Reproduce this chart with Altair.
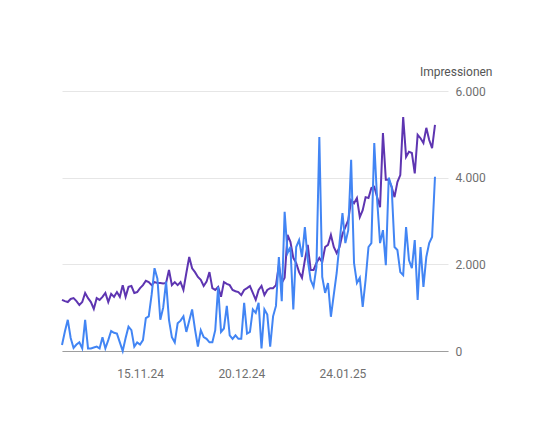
import altair as alt
import pandas as pd

start_date = "2024-10-19"

impressions = [
    1180, 1150, 1130, 1200, 1220, 1150, 1060, 1130, 1340, 1220,
    1130, 970, 1220, 1180, 1250, 1340, 1130, 1320, 1250, 1360,
    1250, 1520, 1250, 1480, 1500, 1340, 1360, 1450, 1520, 1620,
    1590, 1520, 1590, 1570, 1570, 1560, 1570, 1870, 1520, 1590,
    1520, 1590, 1410, 1800, 2170, 1910, 1820, 1710, 1640, 1500,
    1600, 1820, 1450, 1410, 1480, 1250, 1590, 1550, 1520, 1410,
    1380, 1360, 1290, 1410, 1450, 1500, 1340, 1180, 1410, 1500,
    1290, 1410, 1450, 1450, 1520, 1980, 1570, 1690, 2680, 2520,
    2150, 2030, 1820, 1690, 2100, 2450, 1870, 1870, 2030, 2150,
    2050, 2400, 2450, 2680, 2400, 2260, 2400, 2700, 2860, 3020,
    3480, 3410, 3530, 3090, 3250, 3550, 3530, 3760, 3790, 3550,
    3320, 5030, 3950, 3950, 3790, 3550, 3900, 4060, 5400, 4480,
    4600, 4570, 4100, 4990, 4910, 4800, 5150, 4870, 4680, 5220,
]

clicks = [
    140, 450, 720, 300, 70, 150, 200, 60, 720, 60,
    60, 80, 100, 60, 320, 60, 250, 460, 420, 400,
    200, 0, 300, 560, 480, 100, 200, 150, 250, 760,
    800, 1300, 1910, 1670, 720, 1000, 1600, 720, 320, 200,
    640, 700, 800, 440, 700, 960, 500, 100, 480, 320,
    280, 200, 200, 480, 1480, 440, 520, 1040, 360, 280,
    360, 280, 280, 1110, 400, 440, 960, 880, 1110, 60,
    960, 840, 100, 800, 1040, 2170, 1150, 3210, 2260, 2400,
    960, 2400, 2560, 2170, 2860, 2100, 1640, 1480, 1940, 4940,
    1710, 1340, 1570, 790, 1300, 1800, 2500, 3180, 2490, 2790,
    4410, 2030, 1570, 1690, 1020, 1640, 2400, 2490, 4800, 3480,
    2490, 2790, 1980, 4000, 3790, 2400, 2330, 1820, 1750, 2860,
    2100, 1910, 2560, 1180, 2400, 1480, 2170, 2490, 2630, 4020,
]

x_tick_dates = [(2024, 11, 15), (2024, 12, 20), (2025, 1, 24)]
y_ticks = [0, 2000, 4000, 6000]

dates = pd.date_range(start_date, periods=len(impressions), freq="D").strftime("%Y-%m-%dT00:00:00").tolist()
df = pd.DataFrame({"date": dates, "Impressionen": impressions, "Klicks": clicks})

FONT = "Roboto"
LABEL = "#6f6f6f"

x_enc = alt.X(
    "date:T",
    scale=alt.Scale(domain=[alt.DateTime(year=2024, month=10, date=19),
                            alt.DateTime(year=2025, month=3, date=1, hours=12)]),
    axis=alt.Axis(
        values=[alt.DateTime(year=y, month=m, date=d) for y, m, d in x_tick_dates],
        format="%d.%m.%y", title=None, grid=False, ticks=False,
        domainColor="#9e9e9e", domainWidth=1,
        labelColor=LABEL, labelFontSize=12, labelFont=FONT, labelPadding=17,
    ),
)

y_scale = alt.Scale(domain=[0, 6000], nice=False)
y_axis = alt.Axis(
    orient="right", values=y_ticks,
    labelExpr="replace(format(datum.value, ','), ',', '.')",
    title="Impressionen", titleAngle=0, titleAlign="right", titleBaseline="bottom",
    titleX=44, titleY=-13, titleFontWeight="normal", titleFontSize=12,
    titleFont=FONT, titleColor="#555555",
    grid=True, gridColor="#e6e6e6", domain=False, ticks=False,
    labelAlign="left", labelBaseline="middle", labelPadding=7,
    labelColor=LABEL, labelFontSize=12, labelFont=FONT,
)

purple = alt.Chart(df).mark_line(color="#5e35b1", strokeWidth=2).encode(
    x=x_enc,
    y=alt.Y("Impressionen:Q", scale=y_scale, axis=y_axis),
)

blue = alt.Chart(df).mark_line(color="#4285f4", strokeWidth=2).encode(
    x=x_enc,
    y=alt.Y("Klicks:Q", scale=y_scale, axis=y_axis),
)

chart = alt.layer(purple, blue).properties(
    width=386, height=260,
    autosize=alt.AutoSizeParams(type="none"),
    padding={"left": 54, "top": 83, "right": 85, "bottom": 75},
).configure(background="white").configure_view(stroke=None)

chart.save("out.html", embed_options={"renderer": "svg", "actions": False})
